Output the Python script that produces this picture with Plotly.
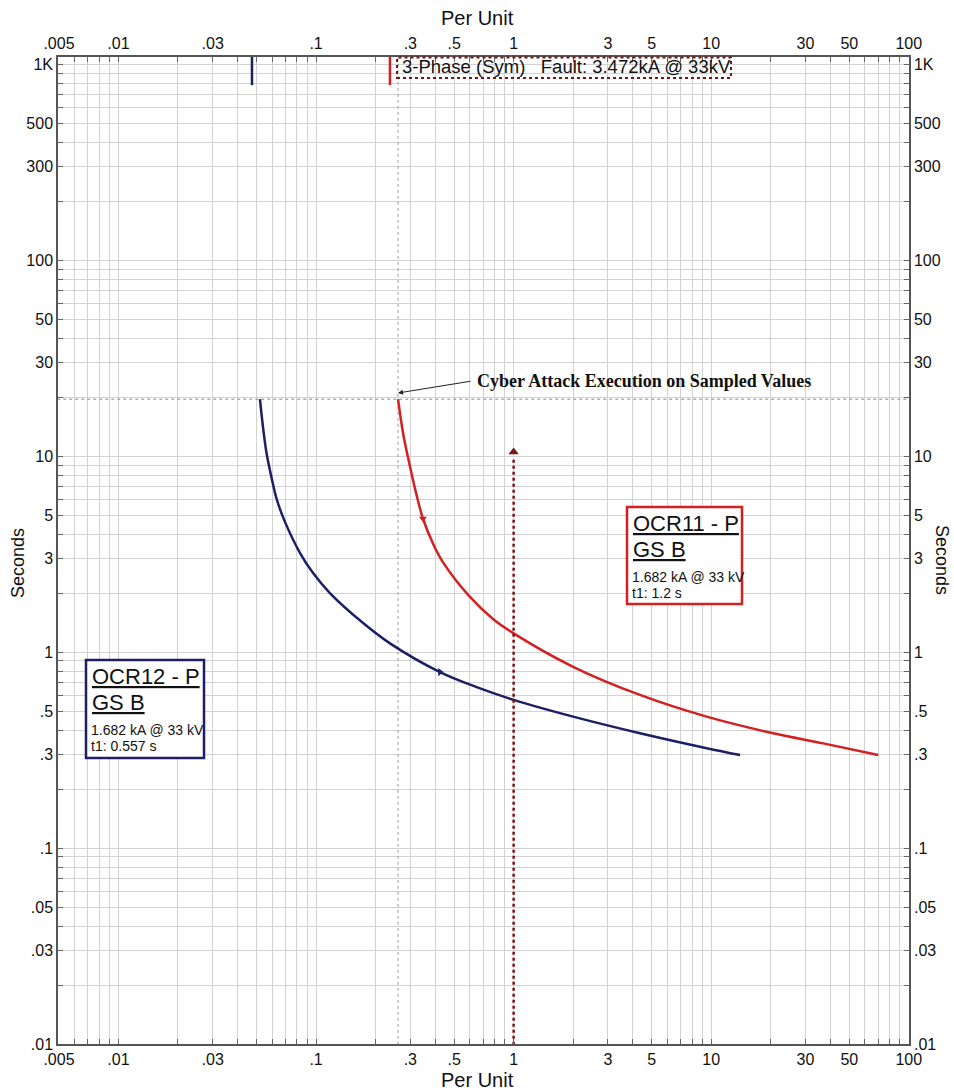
import plotly.graph_objects as go

# ---------------- data ----------------
# OCR12 (blue) time-current curve: per-unit current, seconds
ocr12_pu = [0.0520, 0.0541, 0.0562, 0.0598, 0.0633, 0.0697, 0.0830, 0.0968, 0.1175, 0.1725, 0.2366,
            0.424, 0.655, 1.0, 2.0, 4.36, 9.48, 14.0]
ocr12_s = [19.5, 13.6, 10.3, 7.6, 6.0, 4.6, 3.2, 2.52, 2.0, 1.41, 1.107,
           0.79, 0.66, 0.57, 0.468, 0.385, 0.323, 0.298]
# OCR11 (red) time-current curve
ocr11_pu = [0.26, 0.276, 0.2985, 0.323, 0.3475, 0.392, 0.436, 0.59, 0.789, 1.0, 2.0, 4.36, 9.48, 20.6, 36.9, 70.0]
ocr11_s = [19.5, 13.0, 8.9, 6.3, 4.8, 3.55, 2.9, 1.95, 1.47, 1.245, 0.841, 0.604, 0.468, 0.385, 0.342, 0.298]

attack_time = 19.5          # s, horizontal dotted reference
attack_pu = 0.26            # pu, vertical dotted reference
ocr12_pickup = 0.0474       # pu, top tick marker
ocr11_pickup = 0.2366       # pu, top tick marker
fault_pu = 1.0              # pu, fault arrow
fault_arrow_top = 10.5      # s

x_labels = {0.005: ".005", 0.01: ".01", 0.03: ".03", 0.1: ".1", 0.3: ".3", 0.5: ".5",
            1: "1", 3: "3", 5: "5", 10: "10", 30: "30", 50: "50", 100: "100"}
y_labels = {0.01: ".01", 0.03: ".03", 0.05: ".05", 0.1: ".1", 0.3: ".3", 0.5: ".5",
            1: "1", 3: "3", 5: "5", 10: "10", 30: "30", 50: "50", 100: "100",
            300: "300", 500: "500", 1000: "1K"}

# ---------------- layout helpers ----------------
W, H = 954, 1092
L, R, T, B = 58, 909, 57, 1044


def px(x):
    return (x - L) / (R - L)


def py(y):
    return (B - y) / (B - T)


def grid_vals(lo_exp, hi_exp):
    vals = []
    for e in range(lo_exp, hi_exp + 1):
        for m in range(1, 10):
            vals.append(round(m * 10 ** e, 6))
    return vals


xv = [v for v in grid_vals(-3, 2) if 0.005 - 1e-9 <= v <= 100 + 1e-9]
yv = [v for v in grid_vals(-2, 3) if 0.01 - 1e-9 <= v <= 1000 + 1e-9]


def lab(d, v):
    for k, s in d.items():
        if abs(k - v) < 1e-9 * max(1, k):
            return s
    return ""


xt = [lab(x_labels, v) for v in xv]
yt = [lab(y_labels, v) for v in yv]

FONT = "Liberation Sans, Arial, sans-serif"
BLUE = "#1c1f66"
RED = "#d42020"
DRED = "#7a1414"

fig = go.Figure()

# reference dotted lines
fig.add_trace(go.Scatter(x=[0.0049, 101], y=[attack_time, attack_time], mode="lines",
                         line=dict(color="#8a8a8a", width=1, dash="dot"), showlegend=False, hoverinfo="skip"))
fig.add_trace(go.Scatter(x=[attack_pu, attack_pu], y=[0.0099, 1100], mode="lines",
                         line=dict(color="#9a9a9a", width=1, dash="dot"), showlegend=False, hoverinfo="skip"))

# curves
fig.add_trace(go.Scatter(x=ocr12_pu, y=ocr12_s, mode="lines",
                         line=dict(color=BLUE, width=2.5, shape="spline", smoothing=1.0), showlegend=False))
fig.add_trace(go.Scatter(x=ocr11_pu, y=ocr11_s, mode="lines",
                         line=dict(color=RED, width=2.5, shape="spline", smoothing=1.0), showlegend=False))

# small direction markers on curves
fig.add_trace(go.Scatter(x=[0.424], y=[0.79], mode="markers",
                         marker=dict(symbol="triangle-right", size=7, color=BLUE), showlegend=False))
fig.add_trace(go.Scatter(x=[0.3475], y=[4.8], mode="markers",
                         marker=dict(symbol="triangle-down", size=7, color=RED), showlegend=False))

# pickup markers at top
fig.add_trace(go.Scatter(x=[ocr12_pickup, ocr12_pickup], y=[1100, 780], mode="lines",
                         line=dict(color=BLUE, width=2.5), showlegend=False))
fig.add_trace(go.Scatter(x=[ocr11_pickup, ocr11_pickup], y=[1100, 780], mode="lines",
                         line=dict(color=RED, width=2.5), showlegend=False))

# fault arrow
fig.add_trace(go.Scatter(x=[fault_pu, fault_pu], y=[0.0099, fault_arrow_top * 0.93], mode="lines",
                         line=dict(color=DRED, width=2.5, dash="dot"), showlegend=False))
fig.add_trace(go.Scatter(x=[fault_pu], y=[fault_arrow_top], mode="markers",
                         marker=dict(symbol="triangle-up", size=9, color=DRED), showlegend=False))

# invisible trace on secondary axes
fig.add_trace(go.Scatter(x=[1], y=[1], xaxis="x2", yaxis="y2", mode="markers",
                         marker=dict(opacity=0), showlegend=False, hoverinfo="skip"))

axis_common = dict(type="log", showline=True, mirror=False, linecolor="#555555", linewidth=1.5,
                   ticks="inside", ticklen=5, tickcolor="#666666", tickfont=dict(family=FONT, size=16, color="#111"),
                   zeroline=False, automargin=False)
xr = [-2.306, 2.001]
yr = [-2.0, 3.036]
fig.update_layout(
    width=W, height=H,
    margin=dict(l=L, r=W - R, t=T, b=H - B, autoexpand=False),
    paper_bgcolor="white", plot_bgcolor="white",
    xaxis=dict(range=xr, tickvals=xv, ticktext=xt, showgrid=True, gridcolor="#d2d2d2", gridwidth=1,
               **axis_common),
    yaxis=dict(range=yr, tickvals=yv, ticktext=yt, showgrid=True, gridcolor="#d2d2d2", gridwidth=1,
               **axis_common),
    xaxis2=dict(range=xr, tickvals=xv, ticktext=xt, overlaying="x", side="top", anchor="y", showgrid=False,
                **axis_common),
    yaxis2=dict(range=yr, tickvals=yv, ticktext=yt, overlaying="y", side="right", anchor="x", showgrid=False,
                **axis_common),
    showlegend=False,
)

shapes = []
annotations = []


def text_at(x, y, text, size, family=FONT, xanchor="center", angle=0):
    annotations.append(dict(x=px(x), y=py(y), xref="paper", yref="paper", text=text, showarrow=False,
                            xanchor=xanchor, yanchor="middle", textangle=angle,
                            font=dict(family=family, size=size, color="#111")))


# axis titles
text_at(477, 18, "Per Unit", 20)
text_at(477, 1080, "Per Unit", 20)
text_at(18, 563, "Seconds", 18, angle=-90)
text_at(942, 560, "Seconds", 18, angle=90)

# fault box
shapes.append(dict(type="rect", xref="paper", yref="paper", x0=px(397), x1=px(731), y0=py(78), y1=py(57.5),
                   line=dict(color=DRED, width=2, dash="dot"), fillcolor="rgba(0,0,0,0)"))
text_at(400, 67, "3-Phase (Sym)   Fault: 3.472kA @ 33kV", 18.5, xanchor="left")

# cyber attack annotation
text_at(475, 381, "<b>Cyber Attack Execution on Sampled Values</b>", 18,
        family="Liberation Serif, Times New Roman, serif", xanchor="left")
annotations.append(dict(x=px(398), y=py(393), xref="paper", yref="paper", ax=74, ay=-12,
                        axref="pixel", ayref="pixel", showarrow=True, arrowhead=2, arrowsize=1, arrowwidth=1,
                        arrowcolor="#222", text=""))


# relay boxes
def relay_box(x0, y0, x1, y1, color, name, t1):
    shapes.append(dict(type="rect", xref="paper", yref="paper", x0=px(x0), x1=px(x1), y0=py(y1), y1=py(y0),
                       line=dict(color=color, width=2.5), fillcolor="white", layer="above"))
    text_at(x0 + 4, y0 + 16, f"<u>{name}</u>", 22, xanchor="left")
    text_at(x0 + 4, y0 + 42, "<u>GS B</u>", 22, xanchor="left")
    text_at(x0 + 3, y0 + 70, "1.682 kA @ 33 kV", 14, xanchor="left")
    text_at(x0 + 3, y0 + 86, t1, 14, xanchor="left")


relay_box(627, 507, 742, 604, RED, "OCR11 - P", "t1: 1.2 s")
relay_box(86, 660, 204, 758, BLUE, "OCR12 - P", "t1: 0.557 s")

fig.update_layout(shapes=shapes, annotations=annotations)
fig.write_html("out.html", config={"displayModeBar": False},
               post_script="document.body.style.margin='0px';")
